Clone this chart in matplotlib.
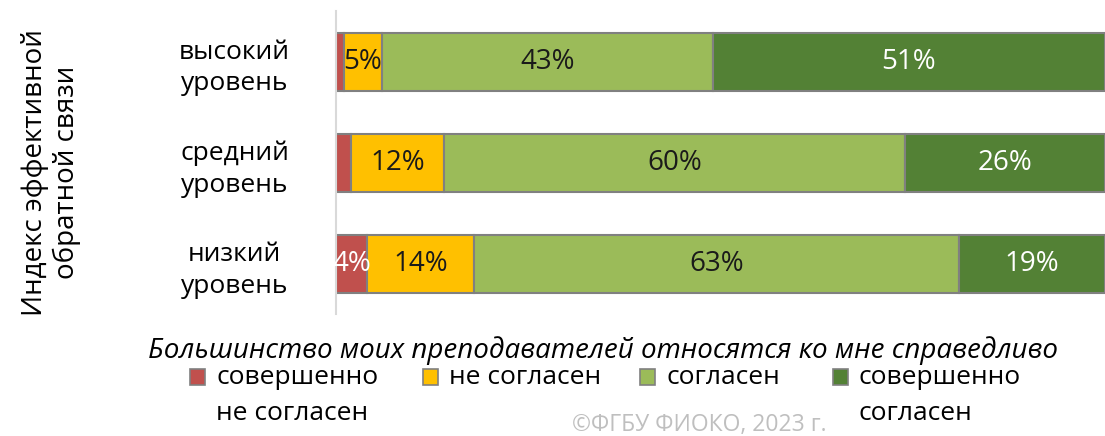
import matplotlib.pyplot as plt
from matplotlib.patches import Rectangle
import numpy as np

plt.rcParams['font.family'] = ['Open Sans', 'DejaVu Sans']

categories = ["низкий\nуровень", "средний\nуровень", "высокий\nуровень"]
series_names = ["совершенно\nне согласен", "не согласен", "согласен", "совершенно\nсогласен"]
# values per category (low, middle, high), percent
strongly_disagree = [4, 2, 1]
disagree = [14, 12, 5]
agree = [63, 60, 43]
strongly_agree = [19, 26, 51]

colors = ["#C0504D", "#FFC000", "#9BBB59", "#538135"]
text_colors = ["white", "#1a1a1a", "#1a1a1a", "white"]
series = [strongly_disagree, disagree, agree, strongly_agree]

fig = plt.figure(figsize=(11.05, 4.36), dpi=100)
ax = fig.add_axes([0.304, 0.279, 0.696, 0.695])

y = np.arange(len(categories))
left = np.zeros(len(categories))
for vals, col, tcol in zip(series, colors, text_colors):
    vals = np.array(vals, dtype=float)
    ax.barh(y, vals, left=left, height=0.57, color=col,
            edgecolor="#808080", linewidth=1.5)
    for i, v in enumerate(vals):
        if v >= 3:
            ax.text(left[i] + v / 2, y[i], f"{v:.0f}%", ha="center", va="center",
                    fontsize=20, color=tcol)
    left += vals

ax.set_xlim(0, 100)
ax.set_ylim(-0.5, 2.5)
ax.set_yticks(y)
ax.set_yticklabels(categories, fontsize=19, ha="center", linespacing=1.35)
ax.tick_params(axis="y", length=0, pad=73)
ax.set_xticks([])
for s in ["top", "right", "bottom"]:
    ax.spines[s].set_visible(False)
ax.spines["left"].set_color("#d9d9d9")
ax.spines["left"].set_linewidth(1.5)

fig.text(0.046, 0.605, "Индекс эффективной\nобратной связи", rotation=90,
         ha="center", va="center", fontsize=20, linespacing=1.15)

fig.text(0.546, 0.197, "Большинство моих преподавателей относятся ко мне справедливо",
         ha="center", va="center", fontsize=20, style="italic")

# legend drawn by hand so that markers sit on the first text line
leg_x = [190, 423, 640, 833]
for name, col, x0 in zip(series_names, colors, leg_x):
    fig.patches.append(Rectangle((x0 / 1105, 1 - 385 / 436), 15 / 1105, 16 / 436,
                                 transform=fig.transFigure, facecolor=col,
                                 edgecolor="#808080", linewidth=1.2))
    for k, line in enumerate(name.split("\n")):
        fig.text((x0 + 26) / 1105, 1 - (377 + 36 * k) / 436, line,
                 ha="left", va="center", fontsize=19)

fig.text(0.633, 0.025, "©ФГБУ ФИОКО, 2023 г.", ha="center", va="center",
         fontsize=16.5, color="#bfbfbf")

fig.savefig("out.png", dpi=100)
